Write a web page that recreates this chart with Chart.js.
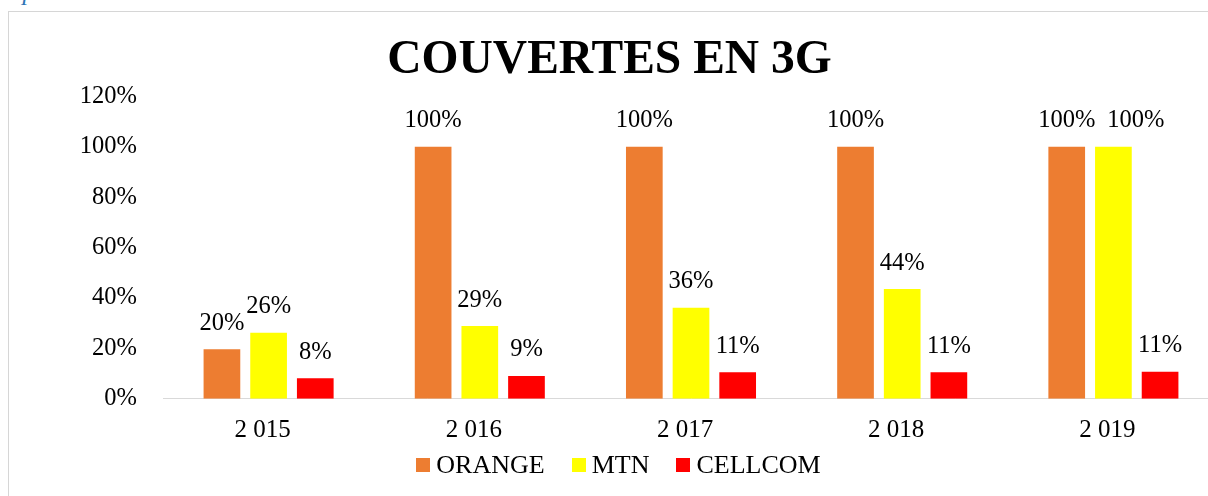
<!DOCTYPE html>
<html>
<head>
<meta charset="utf-8">
<script src="https://cdn.jsdelivr.net/npm/chart.js@4.4.1/dist/chart.umd.min.js"></script>
<style>
  html, body { margin: 0; padding: 0; width: 1208px; height: 496px; overflow: hidden; background: #fff; }
  #frame { position: absolute; left: 8px; top: 11px; width: 1400px; height: 700px; border: 1px solid #d6d6d6; box-sizing: border-box; }
  #cap { position: absolute; left: 10px; top: -22px; font: italic 25px "Liberation Serif", "Times New Roman", serif; color: #2E74B5; white-space: nowrap; }
  #wrap { position: absolute; left: 0; top: 0; width: 1229px; height: 496px; }
  #legend { position: absolute; top: 450px; left: 0; width: 1237px; display: flex; justify-content: center; align-items: center; font: 26px "Liberation Serif", "Times New Roman", serif; color: #000; }
  #legend .item { display: flex; align-items: center; margin: 0 13.5px; }
  #legend .box { width: 14px; height: 14px; margin-right: 6px; }
</style>
</head>
<body>
<div id="cap">opérateurs.</div>
<div id="frame"></div>
<div id="wrap"><canvas id="c" width="1229" height="496"></canvas></div>
<div id="legend"></div>
<script>
const categories = ["2 015", "2 016", "2 017", "2 018", "2 019"];
const orangeValues = [0.196, 1.0, 1.0, 1.0, 1.0];
const mtnValues = [0.262, 0.288, 0.361, 0.435, 1.0];
const cellcomValues = [0.081, 0.090, 0.105, 0.105, 0.107];
const yTicks = [0, 0.2, 0.4, 0.6, 0.8, 1.0, 1.2];
const seriesNames = ["ORANGE", "MTN", "CELLCOM"];
const seriesColors = ["#ED7D31", "#FFFF00", "#FF0000"];
const titleText = "COUVERTES EN 3G";

const FONT = '"Liberation Serif", "Times New Roman", serif';
const pct = v => Math.round(v * 100) + "%";

const barLabels = {
  id: "barLabels",
  afterDatasetsDraw(chart) {
    const ctx = chart.ctx;
    ctx.save();
    ctx.font = "24.5px " + FONT;
    ctx.fillStyle = "#000";
    ctx.textAlign = "center";
    ctx.textBaseline = "middle";
    const n = chart.data.labels.length;
    for (let i = 0; i < n; i++) {
      let prev = null;
      chart.data.datasets.forEach((ds, d) => {
        const meta = chart.getDatasetMeta(d);
        const bar = meta.data[i];
        const txt = pct(ds.data[i]);
        const w = ctx.measureText(txt).width;
        let x = bar.x;
        const y = bar.y - 26;
        if (prev && Math.abs(prev.y - y) < 20 && x - w / 2 < prev.right) {
          x = prev.right + 12 + w / 2;
        }
        ctx.fillText(txt, x, y);
        prev = { right: x + w / 2, y: y };
      });
    }
    ctx.restore();
  }
};

const chart = new Chart(document.getElementById("c"), {
  type: "bar",
  data: {
    labels: categories,
    datasets: [
      { label: seriesNames[0], data: orangeValues, backgroundColor: seriesColors[0] },
      { label: seriesNames[1], data: mtnValues, backgroundColor: seriesColors[1] },
      { label: seriesNames[2], data: cellcomValues, backgroundColor: seriesColors[2] }
    ]
  },
  options: {
    responsive: false,
    animation: false,
    devicePixelRatio: 1,
    layout: { padding: { left: 0, right: 10, top: 0, bottom: 0 } },
    datasets: { bar: { categoryPercentage: 0.663, barPercentage: 0.786 } },
    plugins: {
      legend: { display: false },
      tooltip: { enabled: false },
      title: {
        display: true,
        text: titleText,
        color: "#000",
        font: { family: FONT, size: 47.5, weight: "bold", lineHeight: 1.2 },
        padding: { top: 32, bottom: 7.3 }
      }
    },
    scales: {
      x: {
        grid: { display: false, drawTicks: false },
        border: { display: true, color: "#d9d9d9", width: 1 },
        ticks: { color: "#000", font: { family: FONT, size: 25 }, padding: 17, labelOffset: -6 },
        afterFit: s => { s.height = 97.3; }
      },
      y: {
        min: 0, max: 1.2,
        afterBuildTicks: s => { s.ticks = yTicks.map(v => ({ value: v })); },
        grid: { display: false, drawTicks: false },
        border: { display: false },
        ticks: { color: "#000", font: { family: FONT, size: 24.5 }, padding: 26, callback: v => pct(v) },
        afterFit: s => { s.width = 163; }
      }
    }
  },
  plugins: [barLabels]
});

const legendEl = document.getElementById("legend");
chart.data.datasets.forEach(ds => {
  const item = document.createElement("div");
  item.className = "item";
  const box = document.createElement("span");
  box.className = "box";
  box.style.background = ds.backgroundColor;
  const t = document.createElement("span");
  t.textContent = ds.label;
  item.appendChild(box);
  item.appendChild(t);
  legendEl.appendChild(item);
});
</script>
</body>
</html>
